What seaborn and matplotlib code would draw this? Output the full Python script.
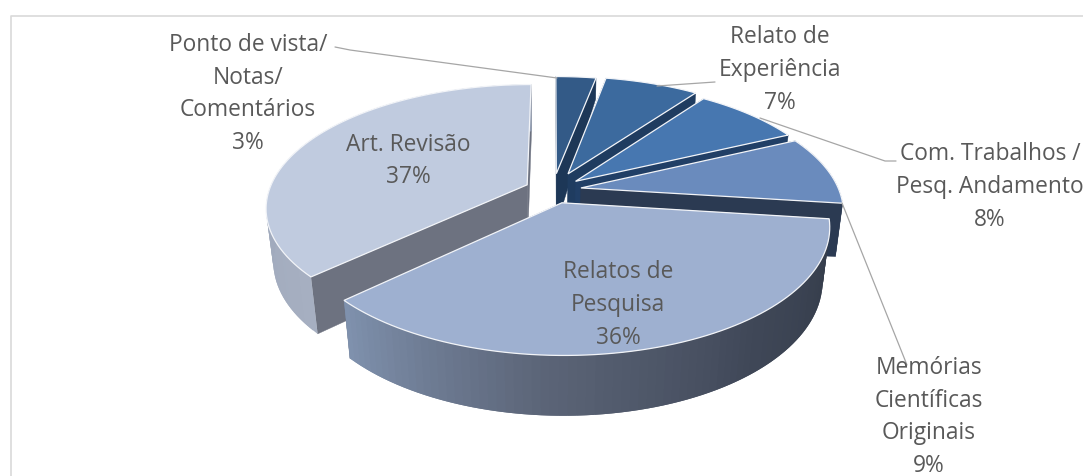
import numpy as np
import matplotlib
matplotlib.use("Agg")
import matplotlib.pyplot as plt
from matplotlib.collections import PolyCollection
import seaborn as sns

# dados
labels = ["Ponto de vista/\nNotas/\nComentários", "Relato de\nExperiência",
          "Com. Trabalhos /\nPesq. Andamento", "Memórias\nCientíficas\nOriginais",
          "Relatos de\nPesquisa", "Art. Revisão"]
percent = [3, 7, 8, 9, 36, 37]

# estilo de cada fatia
explode = [0.14, 0.15, 0.115, 0.11, 0.11, 0.11]
rim_depth = [0.45, 0.45, 0.5, 1, 1, 1]
top_colors = ["#335a87", "#3c6a9e", "#4777b0", "#6a8bbd", "#9eb0d0", "#c0cbdf"]
wall_colors = ["#1d3757", "#1f3c60", "#213f66", "#2b3a52", "#6d7a90", "#6d7280"]
arc_stops = [["#1d3757", "#1d3757"], ["#1f3c60", "#1f3c60"], ["#213f66", "#213f66"],
             ["#2b3a52", "#2b3a52"], ["#333b49", "#3f4757", "#5b6477", "#7f91ad"],
             ["#a6afc1", "#939eb2"]]
# posicao do rotulo (pixels) e linhas de chamada
label_pos = [(248, 94), (780, 70), (990, 187), (929, 417), (618, 305), (408, 161)]
leaders = [[(335, 47), (350, 50), (557, 78)],
           [(657, 86), (715, 82)],
           [(760, 118), (885, 161), (896, 161)],
           [(842, 203), (907, 365)]]

# projecao do disco inclinado
CX, CY, RX, RY = 553, 190, 258, 120
K, M, H = 0.18, 0.025, 54


def project(u, v, z=0.0):
    z = np.asarray(z)
    s = 1 / (1 + K * np.asarray(v) - M * z)
    return CX + RX * np.asarray(u) * s, CY - RY * np.asarray(v) * s - H * z * s


sns.set_theme(style="white")
plt.rcParams["font.family"] = ["Open Sans", "DejaVu Sans"]

fig = plt.figure(figsize=(10.83, 4.76), dpi=100, facecolor="white")
ax = fig.add_axes([0, 0, 1, 1])
ax.set_xlim(0, 1083)
ax.set_ylim(476, 0)
ax.axis("off")

# moldura: so esquerda e topo aparecem no recorte
ax.plot([10.5, 10.5, 1083], [476, 15.5, 15.5], color="#d9d9d9", lw=1.2)

bounds = np.cumsum([0] + percent) / sum(percent) * 2 * np.pi
draw_order = [0, 1, 2, 3, 5, 4]

for i in draw_order:
    a0, a1 = bounds[i], bounds[i + 1]
    mid = (a0 + a1) / 2
    ou, ov = explode[i] * np.sin(mid), explode[i] * np.cos(mid)
    th = np.linspace(a0, a1, 80)
    u = ou + np.sin(th)
    v = ov + np.cos(th)

    # paredes radiais
    for ang in (a0, a1):
        eu, ev = ou + np.sin(ang), ov + np.cos(ang)
        x1, y1 = project([ou, eu], [ov, ev], [0.0, 0.0])
        x2, y2 = project([eu, ou], [ev, ov], [-rim_depth[i], -1.0])
        ax.fill(np.r_[x1, x2], np.r_[y1, y2], color=wall_colors[i], lw=0.3, zorder=2)

    # parede externa com degrade (so onde ela aparece)
    if rim_depth[i] == 1:
        xt, yt = project(u, v, 0.0)
        xb, yb = project(u, v, -1.0)
        quads = []
        for j in range(len(th) - 1):
            k = min(j + 2, len(th) - 1)
            quads.append([(xt[j], yt[j]), (xt[k], yt[k]), (xb[k], yb[k]), (xb[j], yb[j])])
        pal = sns.blend_palette(arc_stops[i], len(quads))
        ax.add_collection(PolyCollection(quads, facecolors=pal, edgecolors="none", zorder=2))

    # face de cima
    xt, yt = project(u, v, 0.0)
    xa, ya = project(ou, ov, 0.0)
    ax.fill(np.r_[xa, xt], np.r_[ya, yt], facecolor=top_colors[i], edgecolor="#f2f4f8", lw=0.9, zorder=2)

for pts in leaders:
    xs, ys = zip(*pts)
    ax.plot(xs, ys, color="#a6a6a6", lw=0.9, zorder=3)

for name, pct, (x, y) in zip(labels, percent, label_pos):
    ax.text(x, y, f"{name}\n{pct}%", ha="center", va="center", color="#595959",
            fontsize=16.4, linespacing=1.48, zorder=4)

fig.savefig("out.png", dpi=100)
